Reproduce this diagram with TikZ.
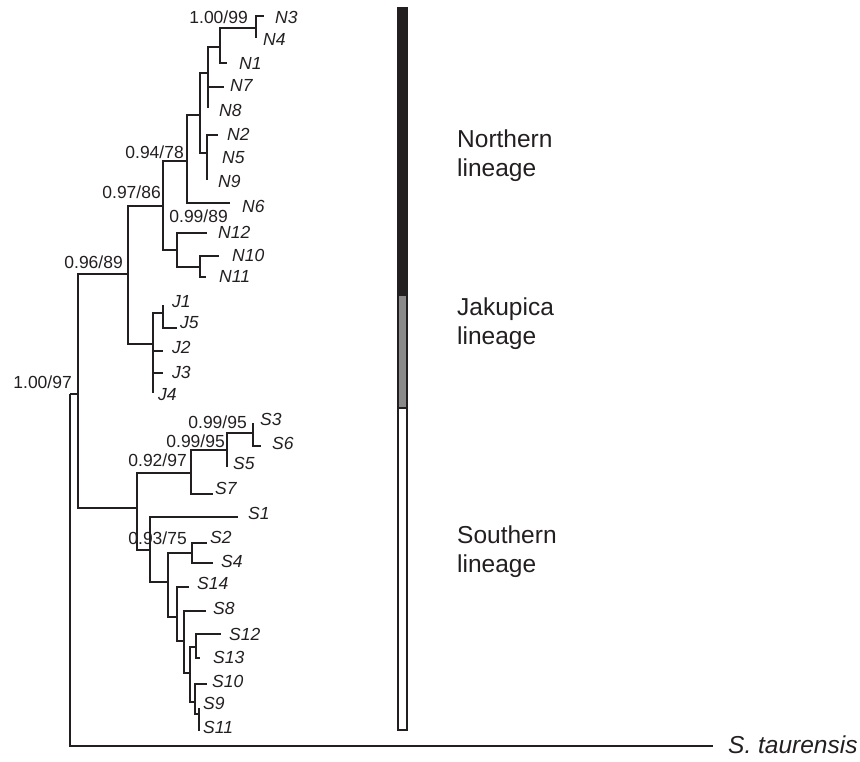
\documentclass[tikz,border=0pt]{standalone}
\usepackage{fontspec}
\setmainfont{Liberation Sans}
\definecolor{ink}{HTML}{231F20}
\definecolor{midgray}{HTML}{8A8A8A}
\begin{document}
\begin{tikzpicture}[x=1pt,y=-1pt,
  br/.style={draw=ink, line width=1.8pt, line join=miter},
  leaf/.style={anchor=west, inner sep=0pt, text=ink, font=\fontsize{17.5}{20}\selectfont\itshape},
  supp/.style={anchor=east, inner sep=0pt, text=ink, font=\fontsize{17.5}{20}\selectfont},
  lin/.style={anchor=north west, inner sep=0pt, align=left, text=ink, font=\fontsize{24.5}{29}\selectfont},
  barpart/.style={draw=ink, line width=1.3pt}]
\useasboundingbox (0,0) rectangle (860,761);
% ---- tree coordinates ----
\coordinate (root) at (70,394);
\coordinate (nH) at (78,394);
\coordinate (nG) at (128,274);
\coordinate (nF) at (163,206);
\coordinate (nD) at (187,161);
\coordinate (nC) at (200,115);
\coordinate (nA) at (208,73);
\coordinate (nN134) at (220,47);
\coordinate (nN34) at (256,28);
\coordinate (tN3) at (264,16);
\coordinate (tN4) at (256,38);
\coordinate (tN1) at (227,63);
\coordinate (tN7) at (224,87);
\coordinate (tN8) at (208,108);
\coordinate (nB) at (207,153);
\coordinate (tN2) at (218,135);
\coordinate (tN9) at (207,180);
\coordinate (tN6) at (230,203);
\coordinate (nE) at (177,250);
\coordinate (tN12) at (207,233);
\coordinate (nN1011) at (200,267);
\coordinate (tN10) at (219,256);
\coordinate (tN11) at (206,277);
\coordinate (nJ) at (153,344);
\coordinate (nJ15) at (163,313);
\coordinate (tJ1) at (163,305);
\coordinate (tJ5) at (177,328);
\coordinate (tJ2) at (163,351);
\coordinate (tJ3) at (163,373);
\coordinate (tJ4) at (153,393);
\coordinate (nS) at (137,508);
\coordinate (nS7g) at (191,473);
\coordinate (nS356) at (227,450);
\coordinate (nS36) at (253,433);
\coordinate (tS3) at (253,423);
\coordinate (tS6) at (261,446);
\coordinate (tS5) at (227,467);
\coordinate (tS7) at (213,494);
\coordinate (nS1g) at (150,550);
\coordinate (tS1) at (238,517);
\coordinate (nS2g) at (168,582);
\coordinate (nS24) at (192,553);
\coordinate (tS2) at (207,543);
\coordinate (tS4) at (213,563);
\coordinate (nS14g) at (177,617);
\coordinate (tS14) at (189,587);
\coordinate (nS8g) at (184,641);
\coordinate (tS8) at (206,611);
\coordinate (nS9ff) at (190,673);
\coordinate (nS1213) at (196,647);
\coordinate (tS12) at (221,634);
\coordinate (tS13) at (200,658);
\coordinate (nS10g) at (195,702);
\coordinate (tS10) at (207,684);
\coordinate (nS911) at (199,714);
\coordinate (tS9) at (199,708);
\coordinate (tS11) at (199,731);
\coordinate (tTaur) at (713,746);
% ---- branches ----
\foreach \p/\c in {root/nH, root/tTaur, nH/nG, nH/nS,
  nG/nF, nG/nJ, nF/nD, nF/nE, nD/nC, nD/tN6, nC/nA, nC/nB,
  nA/nN134, nA/tN7, nA/tN8, nN134/nN34, nN134/tN1, nN34/tN3, nN34/tN4,
  nB/tN2, nB/tN9, nE/tN12, nE/nN1011, nN1011/tN10, nN1011/tN11,
  nJ/nJ15, nJ/tJ2, nJ/tJ3, nJ/tJ4, nJ15/tJ1, nJ15/tJ5,
  nS/nS7g, nS/nS1g, nS7g/nS356, nS7g/tS7, nS356/nS36, nS356/tS5,
  nS36/tS3, nS36/tS6, nS1g/tS1, nS1g/nS2g, nS2g/nS24, nS2g/nS14g,
  nS24/tS2, nS24/tS4, nS14g/tS14, nS14g/nS8g, nS8g/tS8, nS8g/nS9ff,
  nS9ff/nS1213, nS9ff/nS10g, nS1213/tS12, nS1213/tS13,
  nS10g/tS10, nS10g/nS911, nS911/tS9, nS911/tS11}
  \draw[br] (\p) |- (\c);
% ---- leaf labels ----
\foreach \n/\x/\y in {N3/275/17, N4/263/39, N1/239/63, N7/230/85, N8/219/110,
  N2/227/134, N5/222/158, N9/218/181, N6/242/206, N12/218/232, N10/232/255,
  N11/219/276, J1/172/302, J5/180/323, J2/172/347, J3/172/372, J4/158/395,
  S3/260/419, S6/272/443, S5/233/463, S7/215/488, S1/248/513, S2/210/537,
  S4/221/561, S14/197/583, S8/213/608, S12/229/634, S13/213/657,
  S10/212/681, S9/203/703, S11/203/727}
  \node[leaf] (l\n) at (\x,\y) {\n};
\node[leaf, font=\fontsize{24.5}{29}\selectfont\itshape] (lTaur) at (728,745) {S. taurensis};
% ---- support values ----
\node[supp] (s1) at (248,17) {1.00/99};
\node[supp] (s2) at (184,152) {0.94/78};
\node[supp] (s3) at (161,192) {0.97/86};
\node[supp] (s4) at (228,216) {0.99/89};
\node[supp] (s5) at (123,262) {0.96/89};
\node[supp] (s6) at (72,382) {1.00/97};
\node[supp] (s7) at (247,422) {0.99/95};
\node[supp] (s8) at (225,441) {0.99/95};
\node[supp] (s9) at (187,460) {0.92/97};
\node[supp] (s10) at (187,538) {0.93/75};
% ---- lineage bar ----
\draw[barpart, fill=ink] (398,8) rectangle (407,295);
\draw[barpart, fill=midgray] (398,295) rectangle (407,408);
\draw[barpart, fill=white] (398,408) rectangle (407,730);
\node[lin] (north) at (457,130) {Northern\\lineage};
\node[lin] (jaku) at (457,298) {Jakupica\\lineage};
\node[lin] (south) at (457,526) {Southern\\lineage};
\end{tikzpicture}
\end{document}
